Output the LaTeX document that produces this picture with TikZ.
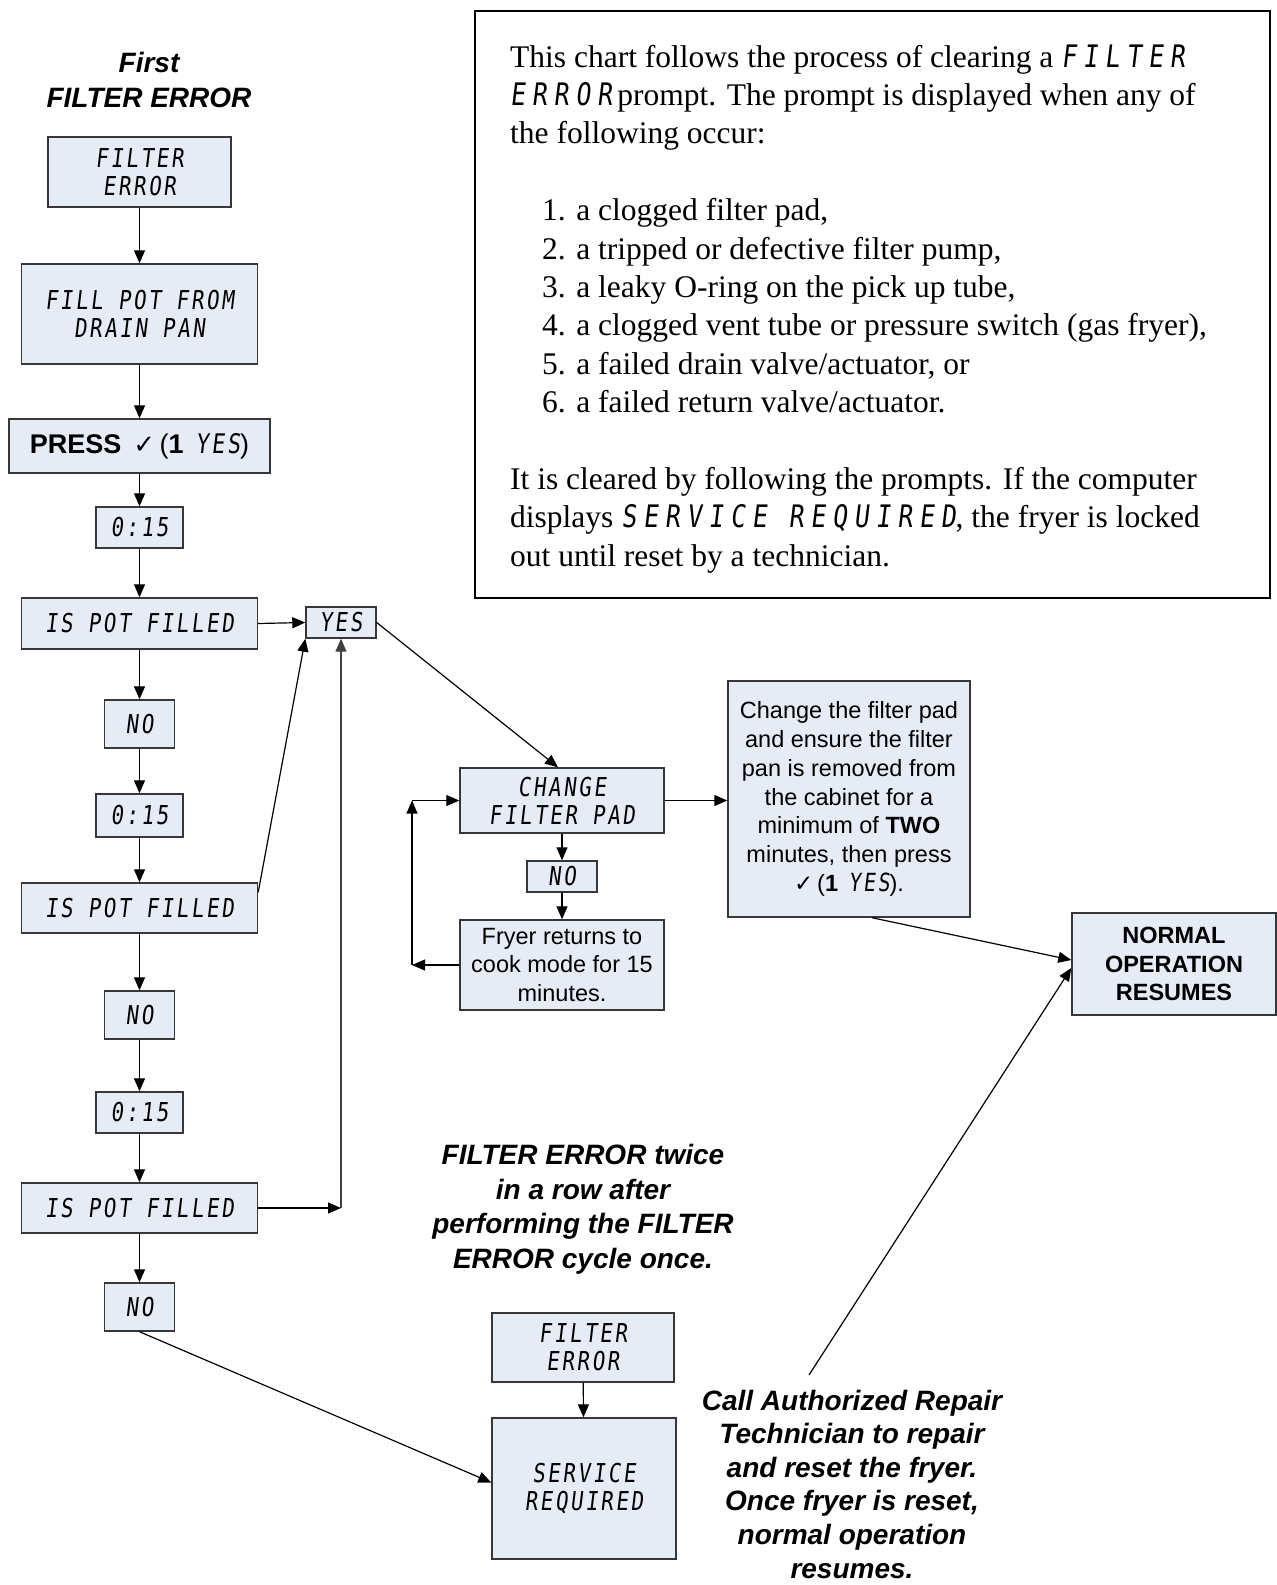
\documentclass[tikz,border=0pt]{standalone}
\usepackage{fontspec}
\setmainfont{Liberation Sans}
\newfontfamily\seriff{Liberation Serif}
\newfontfamily\lcdf[FakeSlant=0.12,FakeStretch=0.8,LetterSpace=10]{DejaVu Sans Mono}
\newfontfamily\lcdi[FakeSlant=0.12,FakeStretch=0.8,LetterSpace=22]{DejaVu Sans Mono}
\newfontfamily\symf{DejaVu Sans}
\usetikzlibrary{arrows.meta,calc}
\definecolor{boxfill}{RGB}{230,236,246}
\definecolor{boxline}{RGB}{55,55,55}
\newcommand{\lcdbox}{\lcdf\fontsize{26}{28}\selectfont}
\newcommand{\lcdin}[1]{{\lcdi\fontsize{31}{38}\selectfont #1}}
\newcommand{\ckm}[1][25]{{\symf\fontsize{#1}{#1}\selectfont ✓}}
\tikzset{
  bx/.style={draw=boxline, line width=1.4pt, fill=boxfill, inner sep=0pt, align=center},
  lcdbx/.style={bx, font=\lcdbox},
  arr/.style={line width=1.2pt, -{Triangle[length=13pt,width=11pt]}},
  ttl/.style={font=\bfseries\itshape\fontsize{28}{35}\selectfont, align=center, inner sep=0pt},
  txt/.style={anchor=base west, inner sep=0pt, font=\seriff\fontsize{31.5}{38}\selectfont}
}
\begin{document}
\begin{tikzpicture}[x=1pt,y=-1pt]
\useasboundingbox (0,0) rectangle (1277,1585);
% titles
\node[ttl] (title) at (149,80) {First\\FILTER ERROR};
% left column
\node[lcdbx, minimum width=183pt, minimum height=70pt] (fe1) at (139.5,172) {FILTER\\ERROR};
\node[lcdbx, minimum width=236pt, minimum height=100pt] (fill) at (139.5,314) {FILL POT FROM\\DRAIN PAN};
\node[bx, minimum width=261pt, minimum height=54pt, font=\fontsize{27}{30}\selectfont] (press) at (139.5,446) {\textbf{PRESS}\, \ckm[26]\,(\textbf{1}\, {\lcdf YES})};
\node[lcdbx, minimum width=87pt, minimum height=41pt] (t1) at (139.5,527.5) {0:15};
\node[lcdbx, minimum width=236pt, minimum height=51pt] (ip1) at (139.5,623.5) {IS POT FILLED};
\node[lcdbx, minimum width=70pt, minimum height=31pt] (yes) at (341,622.5) {YES};
\node[lcdbx, minimum width=70pt, minimum height=48pt] (no1) at (139.5,724) {NO};
\node[lcdbx, minimum width=87pt, minimum height=43pt] (t2) at (139.5,815.5) {0:15};
\node[lcdbx, minimum width=236pt, minimum height=50pt] (ip2) at (139.5,908) {IS POT FILLED};
\node[lcdbx, minimum width=70pt, minimum height=48pt] (no2) at (139.5,1015) {NO};
\node[lcdbx, minimum width=87pt, minimum height=41pt] (t3) at (139.5,1112.5) {0:15};
\node[lcdbx, minimum width=236pt, minimum height=50pt] (ip3) at (139.5,1208) {IS POT FILLED};
\node[lcdbx, minimum width=70pt, minimum height=48pt] (no3) at (139.5,1307) {NO};
% middle column
\node[lcdbx, minimum width=204pt, minimum height=65pt] (chg) at (562,800.5) {CHANGE\\FILTER PAD};
\node[lcdbx, minimum width=70pt, minimum height=31pt] (no4) at (562,876.5) {NO};
\node[bx, minimum width=204pt, minimum height=90pt, font=\fontsize{23.5}{28.8}\selectfont] (fryer) at (562,965) {Fryer returns to\\cook mode for 15\\minutes.};
\node[bx, minimum width=242pt, minimum height=236pt, font=\fontsize{23.5}{28.8}\selectfont] (chgtxt) at (849,799) {Change the filter pad\\and ensure the filter\\pan is removed from\\the cabinet for a\\minimum of \textbf{TWO}\\minutes, then press\\\ckm[23]\,(\textbf{1}\, {\lcdf\fontsize{25}{28.8}\selectfont YES}).};
\node[bx, minimum width=204pt, minimum height=102pt, font=\bfseries\fontsize{23.5}{28.5}\selectfont] (normal) at (1174,964) {NORMAL\\OPERATION\\RESUMES};
% bottom
\node[ttl, font=\bfseries\itshape\fontsize{28}{34.5}\selectfont] (twice) at (583,1209) {FILTER ERROR twice\\in a row after\\performing the FILTER\\ERROR cycle once.};
\node[lcdbx, minimum width=182pt, minimum height=69pt] (fe2) at (583,1347.5) {FILTER\\ERROR};
\node[lcdbx, minimum width=184pt, minimum height=141pt] (serv) at (584,1488.5) {SERVICE\\REQUIRED};
\node[ttl, font=\bfseries\itshape\fontsize{28}{33.6}\selectfont] (call) at (852,1484) {Call Authorized Repair\\Technician to repair\\and reset the fryer.\\Once fryer is reset,\\normal operation\\resumes.};
% top text box
\node[draw=black, line width=2.6pt, minimum width=795pt, minimum height=587pt, inner sep=0pt] (info) at (872.5,304.5) {};
\node[txt] (l1) at (510,67) {This chart follows the process of clearing a \lcdin{FILTER}};
\node[txt] (l2) at (510,105.4) {\lcdin{ERROR}\,prompt. The prompt is displayed when any of};
\node[txt] (l3) at (510,143.8) {the following occur:};
\node[txt] (i1) at (542,220.6) {1. a clogged filter pad,};
\node[txt] (i2) at (542,259) {2. a tripped or defective filter pump,};
\node[txt] (i3) at (542,297.4) {3. a leaky O-ring on the pick up tube,};
\node[txt] (i4) at (542,335.8) {4. a clogged vent tube or pressure switch (gas fryer),};
\node[txt] (i5) at (542,374.2) {5. a failed drain valve/actuator, or};
\node[txt] (i6) at (542,412.6) {6. a failed return valve/actuator.};
\node[txt] (p1) at (510,489.4) {It is cleared by following the prompts. If the computer};
\node[txt] (p2) at (510,527.8) {displays \lcdin{SERVICE REQUIRED}, the fryer is locked};
\node[txt] (p3) at (510,566.2) {out until reset by a technician.};
% connectors left column
\draw[arr] (fe1) -- (fill);
\draw[arr] (fill) -- (press);
\draw[arr] (press) -- (t1);
\draw[arr] (t1) -- (ip1);
\draw[arr] (ip1) -- (no1);
\draw[arr] (no1) -- (t2);
\draw[arr] (t2) -- (ip2);
\draw[arr] (ip2) -- (no2);
\draw[arr] (no2) -- (t3);
\draw[arr] (t3) -- (ip3);
\draw[arr] (ip3) -- (no3);
\draw[arr] (ip1.east) -- (yes.west);
\draw[arr] ($(ip2.north east)+(0,10)$) -- (yes.south west);
\coordinate (jn) at (yes.south |- ip3.east);
\draw[arr] (ip3.east) -- (jn);
\draw[arr, draw=black!75] (jn) -- (yes.south);
\draw[arr] (yes.east) -- ($(chg.north)+(-4,0)$);
% middle loop
\draw[arr] (chg) -- (no4);
\draw[arr] (no4) -- (fryer);
\coordinate (lb) at (412,965);
\coordinate (lt) at (412,800.5);
\draw[arr] (fryer.west) -- (lb);
\draw[arr] (lb) -- (lt);
\draw[arr] (lt) -- (chg.west);
\draw[arr] (chg.east) -- (chgtxt.west |- chg.east);
\draw[arr] ($(chgtxt.south)+(23,0)$) -- ($(normal.west)+(0,-4)$);
\coordinate (callpt) at (809,1375);
\draw[arr] (callpt) -- ($(normal.west)+(0,4)$);
% bottom
\draw[arr] (no3.south) -- ($(serv.west)+(0,-6)$);
\draw[arr] (fe2) -- (serv);
\end{tikzpicture}
\end{document}
